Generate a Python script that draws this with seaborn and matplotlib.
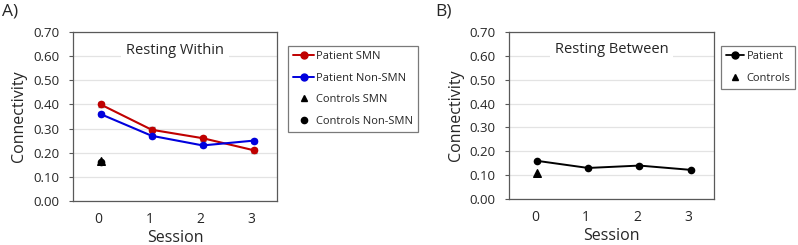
import pandas as pd
import seaborn as sns
import matplotlib.pyplot as plt
from matplotlib.lines import Line2D

# DATA

sessions = [0, 1, 2, 3]
patient_smn = [0.40, 0.295, 0.26, 0.21]
patient_smn_err = [0.012, 0.010, 0.010, 0.010]
patient_nonsmn = [0.36, 0.27, 0.23, 0.25]
patient_nonsmn_err = [0.010, 0.008, 0.008, 0.008]
controls_smn = [0.165]
controls_nonsmn = [0.160]

patient_between = [0.16, 0.13, 0.14, 0.122]
patient_between_err = [0.005, 0.005, 0.005, 0.005]
controls_between = [0.108]

yticks = [0.0, 0.1, 0.2, 0.3, 0.4, 0.5, 0.6, 0.7]

sns.set_style("white")
plt.rcParams["font.family"] = ["Open Sans", "DejaVu Sans"]

RED = "#c00000"
BLUE = "#0000dd"
EDGE = "#595959"
SHIFT = 0.04

fig = plt.figure(figsize=(7.98, 2.45), dpi=100)
ax_a = fig.add_axes([0.0915, 0.180, 0.256, 0.689])
ax_b = fig.add_axes([0.638, 0.188, 0.257, 0.681])

df_a = pd.DataFrame({
    "session": sessions * 2,
    "conn": patient_smn + patient_nonsmn,
    "err": patient_smn_err + patient_nonsmn_err,
    "group": ["Patient SMN"] * 4 + ["Patient Non-SMN"] * 4,
})
df_a["x"] = df_a["session"] + SHIFT
df_b = pd.DataFrame({"session": sessions, "conn": patient_between, "err": patient_between_err})
df_b["x"] = df_b["session"] + SHIFT


def style_axis(ax, title):
    ax.set_xlim(-0.5, 3.5)
    ax.set_ylim(0, 0.7)
    ax.set_yticks(yticks)
    ax.set_yticklabels([f"{v:.2f}" for v in yticks])
    ax.set_xticks(sessions)
    ax.grid(axis="y", color="#e3e3e3", linewidth=0.9)
    ax.set_axisbelow(True)
    for s in ax.spines.values():
        s.set_color(EDGE)
        s.set_linewidth(0.9)
    ax.tick_params(axis="y", length=3, color=EDGE, labelsize=9.5, pad=7, direction="out", left=True)
    ax.tick_params(axis="x", length=0, labelsize=10, pad=8)
    ax.set_xlabel("Session", fontsize=11.5, labelpad=2)
    ax.set_ylabel("Connectivity", fontsize=11.5, labelpad=4)
    ax.text(1.5, 0.625, title, ha="center", va="center", fontsize=10.5,
            bbox=dict(facecolor="white", edgecolor="none", pad=3.5))


# PANEL A

for grp in ["Patient SMN", "Patient Non-SMN"]:
    sub = df_a[df_a["group"] == grp]
    ax_a.errorbar(sub["x"], sub["conn"], yerr=sub["err"], fmt="none",
                  ecolor="#7f7f7f", elinewidth=1.2, capsize=2, capthick=1, zorder=2)
sns.lineplot(data=df_a, x="x", y="conn", hue="group",
             palette={"Patient SMN": RED, "Patient Non-SMN": BLUE},
             marker="o", markersize=5.5, markeredgewidth=0, linewidth=1.5,
             legend=False, ax=ax_a, zorder=3)
ax_a.scatter([sessions[0] + SHIFT], controls_nonsmn, marker="o", color="black", s=20, zorder=3)
ax_a.scatter([sessions[0] + SHIFT], controls_smn, marker="^", color="black", s=30, zorder=4)
style_axis(ax_a, "Resting Within")

# PANEL B

ax_b.errorbar(df_b["x"], df_b["conn"], yerr=df_b["err"], fmt="none",
              ecolor="#7f7f7f", elinewidth=1.2, capsize=2, capthick=1, zorder=2)
sns.lineplot(data=df_b, x="x", y="conn", color="black",
             marker="o", markersize=5.5, markeredgewidth=0, linewidth=1.4, ax=ax_b, zorder=3)
ax_b.scatter([sessions[0] + SHIFT], controls_between, marker="^", color="black", s=30, zorder=4)
style_axis(ax_b, "Resting Between")

# LEGENDS

leg_kw = dict(loc="upper left", fontsize=8, frameon=True, fancybox=False,
              handletextpad=0.2, borderpad=0.45, borderaxespad=0, labelspacing=0.95)

handles_a = [
    Line2D([], [], color=RED, marker="o", markersize=5, linewidth=1.4),
    Line2D([], [], color=BLUE, marker="o", markersize=5, linewidth=1.4),
    Line2D([], [], color="black", marker="^", markersize=5, linestyle="none"),
    Line2D([], [], color="black", marker="o", markersize=4.5, linestyle="none"),
]
labels_a = ["Patient SMN", "Patient Non-SMN", "Controls SMN", "Controls Non-SMN"]
leg_a = fig.legend(handles_a, labels_a, bbox_to_anchor=(0.361, 0.812), handlelength=1.9, **leg_kw)
leg_a.get_frame().set_edgecolor(EDGE)
leg_a.get_frame().set_linewidth(0.9)

handles_b = [
    Line2D([], [], color="black", marker="o", markersize=5, linewidth=1.3),
    Line2D([], [], color="black", marker="^", markersize=5, linestyle="none"),
]
leg_b = fig.legend(handles_b, ["Patient", "Controls"], bbox_to_anchor=(0.904, 0.812),
                   handlelength=1.6, **leg_kw)
leg_b.get_frame().set_edgecolor(EDGE)
leg_b.get_frame().set_linewidth(0.9)

# PANEL LABELS

fig.text(0.002, 0.985, "A)", fontsize=12.5, va="top")
fig.text(0.545, 0.985, "B)", fontsize=12.5, va="top")

fig.savefig("out.png", dpi=100)
